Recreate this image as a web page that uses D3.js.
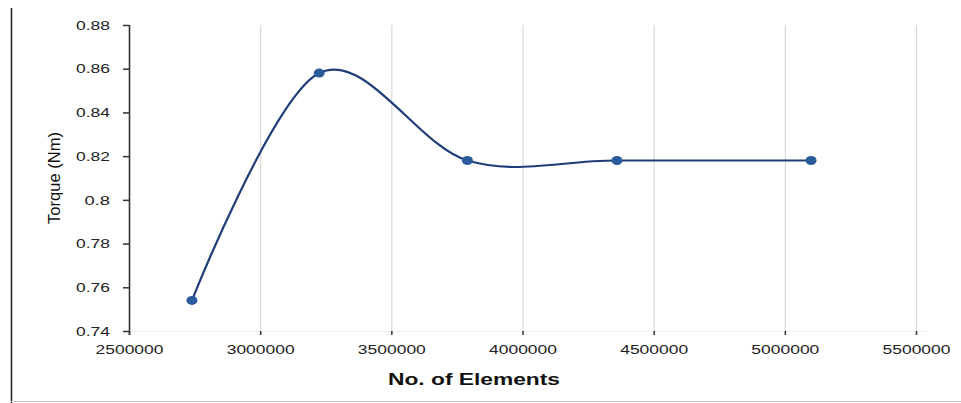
<!DOCTYPE html>
<html>
<head>
<meta charset="utf-8">
<script src="https://cdn.jsdelivr.net/npm/d3@7"></script>
<style>
  body { margin: 0; background: #fff; }
  svg { display: block; font-family: "Liberation Sans", Arial, sans-serif; }
</style>
</head>
<body>
<svg id="chart" width="961" height="403"></svg>
<script>
// data
const elements = [2740000, 3225000, 3790000, 4360000, 5100000];
const torque = [0.754, 0.858, 0.818, 0.818, 0.818];
const xTicks = [2500000, 3000000, 3500000, 4000000, 4500000, 5000000, 5500000];
const yTicks = [0.74, 0.76, 0.78, 0.80, 0.82, 0.84, 0.86, 0.88];
const xTitle = 'No. of Elements';
const yTitle = 'Torque (Nm)';

const svg = d3.select('#chart');
const width = +svg.attr('width');
const height = +svg.attr('height');

const x = d3.scaleLinear().domain([2500000, 5500000]).range([129, 916]);
const y = d3.scaleLinear().domain([0.74, 0.88]).range([331, 25]);

// ------- frame lines -------
svg.append('line')
    .attr('x1', 11.5).attr('x2', 11.5)
    .attr('y1', 8).attr('y2', height)
    .attr('stroke', '#222').attr('stroke-width', 1.5);

svg.append('line')
    .attr('x1', 11).attr('x2', width)
    .attr('y1', 401.5).attr('y2', 401.5)
    .attr('stroke', '#c8c8c8').attr('stroke-width', 1);

// ------- gridlines -------
svg.append('g')
    .selectAll('line')
    .data(xTicks.slice(1))
    .join('line')
        .attr('x1', d => x(d) + 0.5)
        .attr('x2', d => x(d) + 0.5)
        .attr('y1', y(0.88))
        .attr('y2', y(0.74))
        .attr('stroke', '#d9d9d9')
        .attr('stroke-width', 1.2);

// faint x axis line
svg.append('line')
    .attr('x1', x(2500000)).attr('x2', x(5500000) + 10)
    .attr('y1', y(0.74) + 0.5).attr('y2', y(0.74) + 0.5)
    .attr('stroke', '#eeeeee');

// ------- x axis -------
const xAxis = svg.append('g')
    .attr('transform', `translate(0, ${y(0.74)})`)
    .call(d3.axisBottom(x).tickValues(xTicks).tickSize(4).tickPadding(10).tickFormat(d3.format('d')));

xAxis.select('.domain').remove();
xAxis.selectAll('.tick line').attr('stroke', '#333').attr('stroke-width', 1.5);
xAxis.selectAll('.tick text')
    .attr('fill', '#222')
    .attr('font-size', 12)
    .attr('font-family', '"Liberation Sans", Arial, sans-serif')
    .attr('textLength', 68)
    .attr('lengthAdjust', 'spacingAndGlyphs');

// ------- y axis -------
const yAxis = svg.append('g')
    .attr('transform', `translate(${x(2500000)}, 0)`)
    .call(d3.axisLeft(y).tickValues(yTicks).tickSize(6).tickPadding(13).tickFormat(d => String(+d.toFixed(2))));

yAxis.select('.domain')
    .attr('d', `M0.5,${y(0.88)}V${y(0.74) + 4}`)
    .attr('stroke', '#333')
    .attr('stroke-width', 1.6);
yAxis.selectAll('.tick line').attr('stroke', '#333').attr('stroke-width', 1.5);
yAxis.selectAll('.tick text')
    .attr('fill', '#222')
    .attr('font-size', 13)
    .attr('font-family', '"Liberation Sans", Arial, sans-serif')
    .attr('textLength', d => String(+d.toFixed(2)).length * 8.5)
    .attr('lengthAdjust', 'spacingAndGlyphs');

// ------- axis titles -------
svg.append('text')
    .attr('x', 474)
    .attr('y', 385)
    .attr('text-anchor', 'middle')
    .attr('font-size', 16)
    .attr('font-weight', 'bold')
    .attr('fill', '#111')
    .attr('textLength', 172)
    .attr('lengthAdjust', 'spacingAndGlyphs')
    .text(xTitle);

svg.append('text')
    .attr('transform', 'translate(60, 178) rotate(-90)')
    .attr('text-anchor', 'middle')
    .attr('font-size', 16)
    .attr('fill', '#111')
    .attr('textLength', 92)
    .attr('lengthAdjust', 'spacingAndGlyphs')
    .text(yTitle);

// ------- smoothed series -------
const points = elements.map((e, i) => [e, torque[i]]);

const line = d3.line()
    .x(d => x(d[0]))
    .y(d => y(d[1]))
    .curve(d3.curveCardinal.tension(0));

svg.append('path')
    .datum(points)
    .attr('d', line)
    .attr('fill', 'none')
    .attr('stroke', '#1f3d78')
    .attr('stroke-width', 2.2);

svg.append('g')
    .selectAll('ellipse')
    .data(points)
    .join('ellipse')
        .attr('cx', d => x(d[0]))
        .attr('cy', d => y(d[1]))
        .attr('rx', 5.5)
        .attr('ry', 4.5)
        .attr('fill', '#2a5c9c');
</script>
</body>
</html>
